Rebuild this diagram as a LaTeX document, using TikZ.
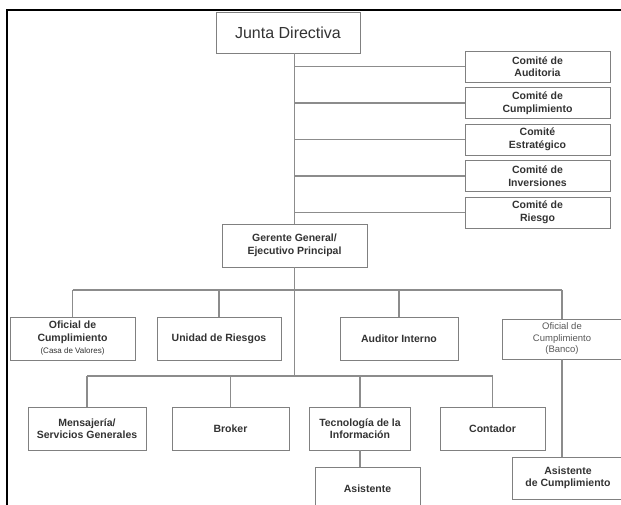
\documentclass[tikz,border=0pt]{standalone}
\usepackage{fontspec}
\setmainfont{Liberation Sans}
\usetikzlibrary{positioning}
\tikzset{>=latex}
\begin{document}
\begin{tikzpicture}[x=1pt,y=-1pt,
   box/.style={draw=black!50,line width=0.9pt,fill=white,align=center,inner sep=0pt,
      text=black!80,font=\bfseries\fontsize{10.5}{12.5}\selectfont},
   comite/.style={box,minimum width=145pt,minimum height=31pt},
   unit/.style={box,minimum height=43pt},
   link/.style={draw=black!45,line width=1.2pt},
]
\useasboundingbox (0,0) rectangle (621,505);
\draw[line width=2pt] (7,505) -- (7,10) -- (621,10);

\node[box,font=\fontsize{16}{18}\selectfont,minimum width=144pt,minimum height=41pt] (junta) at (288,32.5) {Junta Directiva};
\node[comite] (caud) at (537.5,66.5) {Comité de\\Auditoria};
\node[comite] (ccum) at (537.5,103) {Comité de\\Cumplimiento};
\node[comite] (cest) at (537.5,139.5) {Comité\\Estratégico};
\node[comite] (cinv) at (537.5,176) {Comité de\\Inversiones};
\node[comite] (crie) at (537.5,212.5) {Comité de\\Riesgo};
\node[unit,minimum width=145pt] (gerente) at (294.5,245.5) {Gerente General/\\Ejecutivo Principal};

\node[unit,minimum width=125pt] (ofc) at (72.5,338.5) {Oficial de\\Cumplimiento\\{\normalfont\fontsize{8}{10}\selectfont(Casa de Valores)}};
\node[unit,minimum width=124pt] (uri) at (219,338.5) {Unidad de Riesgos};
\node[unit,minimum width=118pt] (aui) at (399,338.5) {Auditor Interno};
\node[unit,minimum width=120pt,minimum height=40pt,text=black!65,
   font=\fontsize{9.5}{11.5}\selectfont] (ofb) at (562,339) {Oficial de\\Cumplimiento\\(Banco)};

\node[unit,minimum width=118pt] (men) at (87,428.5) {Mensajería/\\Servicios Generales};
\node[unit,minimum width=117pt] (bro) at (230.5,428.5) {Broker};
\node[unit,minimum width=101pt] (tec) at (360,428.5) {Tecnología de la\\Información};
\node[unit,minimum width=105pt] (con) at (492.5,428.5) {Contador};
\node[unit,minimum width=105pt] (asi) at (367.5,488.5) {Asistente};
\node[unit,minimum width=112pt,minimum height=42pt] (asc) at (568,478) {Asistente\\de Cumplimiento};

\coordinate (bus2) at (294.5,290);
\coordinate (bus3) at (294.5,376);
\draw[link] (gerente.north |- junta.south) -- (gerente.north);
\foreach \c in {caud,ccum,cest,cinv,crie}
   \draw[link] (gerente.north |- \c.west) -- (\c.west);
\draw[link] (gerente.south) -- (bus3);
\draw[link] (bus2 -| ofc.north) -- (bus2 -| ofb.north);
\foreach \n in {ofc,uri,aui,ofb}
   \draw[link] (bus2 -| \n.north) -- (\n.north);
\draw[link] (bus3 -| men.north) -- (bus3 -| con.north);
\foreach \n in {men,bro,tec,con}
   \draw[link] (bus3 -| \n.north) -- (\n.north);
\draw[link] (tec.south) -- (tec.south |- asi.north);
\draw[link] (ofb.south) -- (ofb.south |- asc.north);
\end{tikzpicture}
\end{document}
